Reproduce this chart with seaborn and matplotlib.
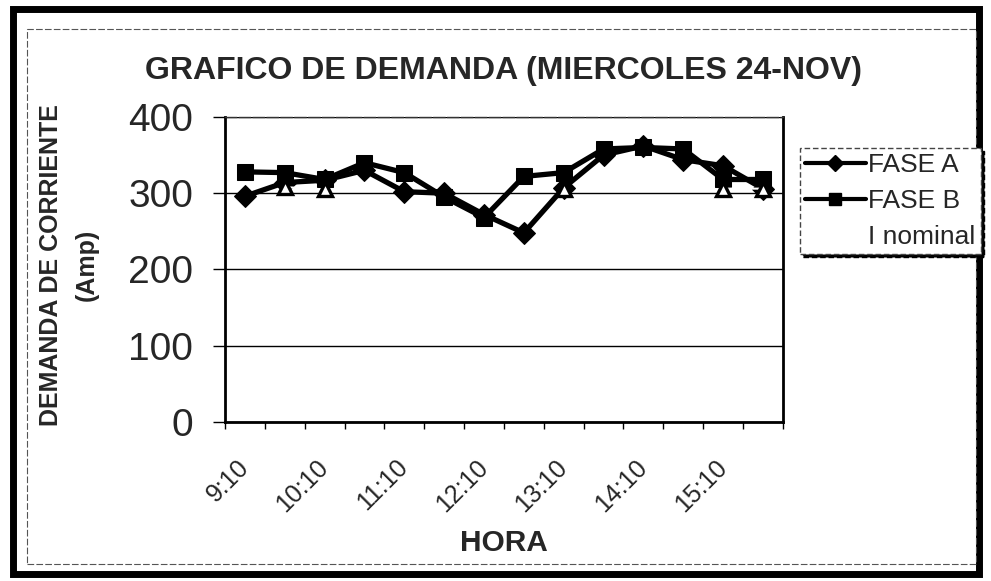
import numpy as np
import pandas as pd
import matplotlib
matplotlib.use("Agg")
import matplotlib.pyplot as plt
from matplotlib.lines import Line2D
from matplotlib.patches import Rectangle
import seaborn as sns

# Half-hour readings, 9:10 to 15:40
horas = ["9:10", "9:40", "10:10", "10:40", "11:10", "11:40", "12:10",
         "12:40", "13:10", "13:40", "14:10", "14:40", "15:10", "15:40"]
fase_a = [296, 314, 317, 330, 302, 300, 272, 248, 307, 350, 362, 344, 336, 306]
fase_b = [328, 327, 318, 340, 327, 295, 268, 322, 327, 358, 360, 358, 318, 318]
i_nominal = [np.nan, 308, 305, np.nan, np.nan, np.nan, np.nan, np.nan,
             305, np.nan, np.nan, np.nan, 306, 306]
etiquetas_x = ["9:10", "10:10", "11:10", "12:10", "13:10", "14:10", "15:10"]
yticks = [0, 100, 200, 300, 400]

sns.set_theme(style="white")
plt.rcParams["font.family"] = ["Liberation Sans", "DejaVu Sans"]

df = pd.DataFrame({"pos": np.arange(len(horas)), "hora": horas,
                   "FASE A": fase_a, "FASE B": fase_b, "I nominal": i_nominal})

fig = plt.figure(figsize=(9.91, 5.81), dpi=100)
ax = fig.add_axes([0.227, 0.2737, 0.563, 0.525])

sns.lineplot(data=df, x="pos", y="FASE B", ax=ax, color="black", lw=3.8,
             marker="s", markersize=11, markeredgecolor="black", legend=False)
sns.lineplot(data=df, x="pos", y="FASE A", ax=ax, color="black", lw=3.8,
             marker="D", markersize=11, markeredgecolor="black", legend=False)
ax.plot(df["pos"], df["I nominal"], color="white", lw=1.5, marker="^",
        markersize=10, markerfacecolor="white", markeredgecolor="black",
        markeredgewidth=2.4, zorder=4)

ax.set_xlim(-0.5, len(horas) - 0.5)
ax.set_ylim(0, 400)
ax.set_yticks(yticks)
ax.set_yticklabels([str(v) for v in yticks], fontsize=28)
ax.yaxis.grid(True, color="black", lw=1.0)
ax.set_axisbelow(True)

ax.set_xticks(np.arange(0, len(horas), 2))
ax.set_xticklabels(etiquetas_x, rotation=45, ha="right", va="center",
                   rotation_mode="anchor", fontsize=18)
ax.set_xticks(np.arange(-0.5, len(horas), 1), minor=True)
ax.tick_params(axis="x", which="major", length=0, pad=30)
ax.tick_params(axis="x", which="minor", length=5, width=1, color="black",
               direction="out", bottom=True)
ax.tick_params(axis="y", length=9, width=1, color="black", direction="out",
               left=True, pad=14)

for side in ["left", "bottom", "right"]:
    ax.spines[side].set_color("black")
    ax.spines[side].set_linewidth(2)
ax.spines["top"].set_color("#333333")
ax.spines["top"].set_linewidth(1)
ax.spines["top"].set_linestyle((0, (8, 2)))

ax.set_xlabel("HORA", fontsize=21.5, fontweight="bold")
ax.xaxis.set_label_coords(0.5, -0.35)
ax.set_ylabel("DEMANDA DE CORRIENTE\n(Amp)", fontsize=18, fontweight="bold",
              linespacing=1.6)
ax.yaxis.set_label_coords(-0.226, 0.515)

fig.text(0.508, 0.878, "GRAFICO DE DEMANDA (MIERCOLES 24-NOV)", ha="center",
         va="center", fontsize=23, fontweight="bold")

handles = [
    Line2D([], [], color="black", lw=3, marker="D", markersize=8),
    Line2D([], [], color="black", lw=3, marker="s", markersize=8),
    Line2D([], [], color="white", lw=3),
]
leg = fig.legend(handles, ["FASE A", "FASE B", "I nominal"],
                 loc="upper left", bbox_to_anchor=(0.807, 0.745),
                 fontsize=19, frameon=True, fancybox=False,
                 shadow={"color": "black", "alpha": 1.0},
                 handlelength=2.3, handletextpad=0.1, borderpad=0.2,
                 labelspacing=0.45, borderaxespad=0)
leg.get_frame().set_edgecolor("#444444")
leg.get_frame().set_linestyle((0, (4, 2)))
leg.get_frame().set_linewidth(1)

# Outer frame of the sheet
fig.patches.append(Rectangle((0.013, 0.012), 0.975, 0.972, transform=fig.transFigure,
                             fill=False, edgecolor="black", lw=5))
fig.patches.append(Rectangle((0.027, 0.03), 0.958, 0.92, transform=fig.transFigure,
                             fill=False, edgecolor="#555555", lw=0.8,
                             linestyle=(0, (6, 2))))

fig.savefig("out.png", dpi=100)
